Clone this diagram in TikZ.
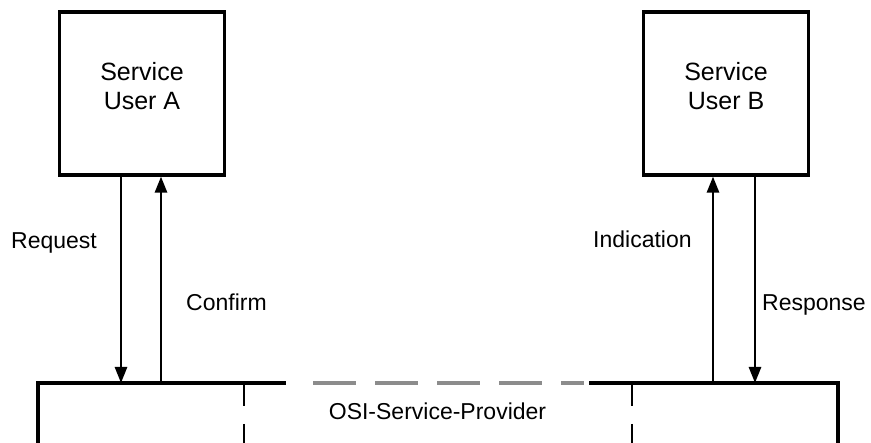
\documentclass[tikz,border=0pt]{standalone}
\usepackage{fontspec}
\setmainfont{Liberation Sans}
\usetikzlibrary{positioning, arrows.meta, calc}

\begin{document}
\begin{tikzpicture}[
    x=1pt, y=-1pt,
    user/.style={rectangle, draw, line width=3.2pt, minimum width=165pt, minimum height=163pt, inner sep=0pt},
    utext/.style={align=center, font=\fontsize{25}{29}\selectfont, inner sep=0pt},
    prim/.style={font=\fontsize{23}{26}\selectfont, inner sep=0pt, anchor=base west},
    arrow/.style={-{Triangle[length=16pt, width=12pt]}, line width=2.7pt},
    wall/.style={line width=3.2pt},
    gap/.style={line width=2.8pt, dash pattern=on 23pt off 18pt},
    link/.style={line width=3.2pt, black!45, dash pattern=on 43pt off 19pt}
]
\useasboundingbox (0,0) rectangle (871,443);

% Service users
\node[user] (userA) at (142,93.5) {};
\node[user] (userB) at (726,93.5) {};
\node[utext] (nameA) at ($(userA.center)+(0,-7.5)$) {Service\\User A};
\node[utext] (nameB) at ($(userB.center)+(0,-7.5)$) {Service\\User B};

% Provider outline
\coordinate (provL) at (38,383);
\coordinate (provR) at (838,383);
\draw[wall] (38,443) -- (provL) -- (286,383);
\draw[wall] (589,383) -- (provR) -- (838,443);
\draw[link] (313,383) -- (584,383);
\draw[gap] (244,383) -- (244,443);
\draw[gap] (632,383) -- (632,443);
\node[prim, anchor=base] (prov) at (437.5,420) {OSI-Service-Provider};

% Primitives
\coordinate (reqTop) at (userA.south -| 121,0);
\coordinate (reqEnd) at (provL -| 121,0);
\coordinate (cnfTop) at (userA.south -| 161,0);
\coordinate (cnfEnd) at (provL -| 161,0);
\coordinate (indTop) at (userB.south -| 713,0);
\coordinate (indEnd) at (provL -| 713,0);
\coordinate (rspTop) at (userB.south -| 755,0);
\coordinate (rspEnd) at (provL -| 755,0);

\draw[arrow] (reqTop) -- (reqEnd);
\draw[arrow] (cnfEnd) -- (cnfTop);
\draw[arrow] (indEnd) -- (indTop);
\draw[arrow] (rspTop) -- (rspEnd);

% Labels
\node[prim] (req) at (11,249) {Request};
\node[prim] (cnf) at (186,311) {Confirm};
\node[prim] (ind) at (593,248) {Indication};
\node[prim] (rsp) at (762,311) {Response};
\end{tikzpicture}
\end{document}
